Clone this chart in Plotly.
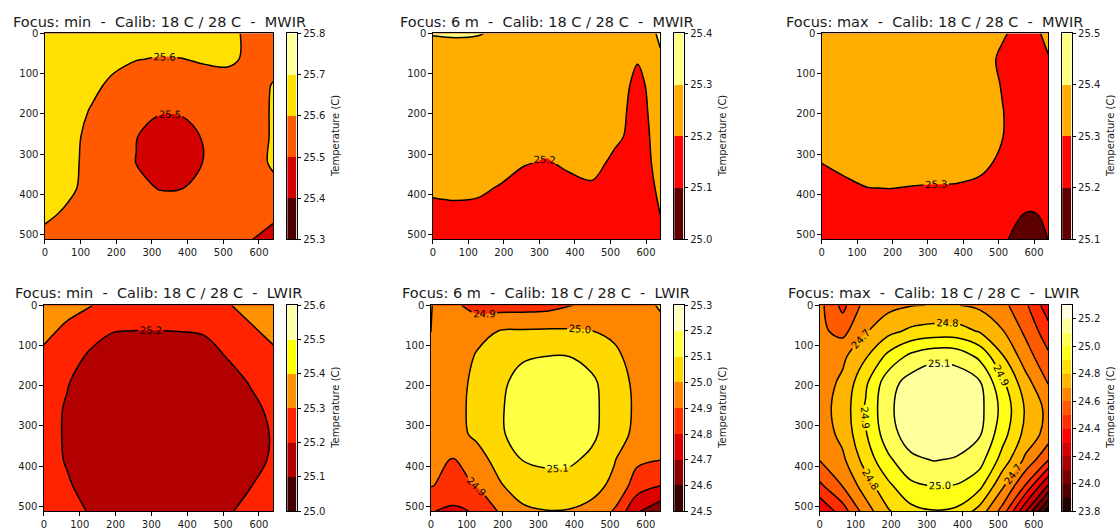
import plotly.graph_objects as go

# ---------------- data ----------------
X_PIX = [0, 64, 128, 192, 256, 320, 384, 448, 512, 576, 640]
Y_PIX = [0, 64, 128, 192, 256, 320, 384, 448, 512]

X_TICKS = [0, 100, 200, 300, 400, 500, 600]
Y_TICKS = [0, 100, 200, 300, 400, 500]

NB = "\u00a0"
TITLES = [
    "Focus: min" + NB + " - " + NB + "Calib: 18 C / 28 C" + NB + " - " + NB + "MWIR",
    "Focus: 6 m" + NB + " - " + NB + "Calib: 18 C / 28 C" + NB + " - " + NB + "MWIR",
    "Focus: max" + NB + " - " + NB + "Calib: 18 C / 28 C" + NB + " - " + NB + "MWIR",
    "Focus: min" + NB + " - " + NB + "Calib: 18 C / 28 C" + NB + " - " + NB + "LWIR",
    "Focus: 6 m" + NB + " - " + NB + "Calib: 18 C / 28 C" + NB + " - " + NB + "LWIR",
    "Focus: max" + NB + " - " + NB + "Calib: 18 C / 28 C" + NB + " - " + NB + "LWIR",
]
CB_TITLE = "Temperature (C)"

LEVEL_LO = [25.3, 25.0, 25.1, 25.0, 24.5, 23.8]
LEVEL_HI = [25.8, 25.4, 25.5, 25.6, 25.3, 25.3]
LEVEL_STEP = 0.1

CB_TICKS = [
    [25.3, 25.4, 25.5, 25.6, 25.7, 25.8],
    [25.0, 25.1, 25.2, 25.3, 25.4],
    [25.1, 25.2, 25.3, 25.4, 25.5],
    [25.0, 25.1, 25.2, 25.3, 25.4, 25.5, 25.6],
    [24.5, 24.6, 24.7, 24.8, 24.9, 25.0, 25.1, 25.2, 25.3],
    [23.8, 24.0, 24.2, 24.4, 24.6, 24.8, 25.0, 25.2],
]

# temperature fields, rows = Y_PIX, columns = X_PIX
T_MIN_MWIR = [
    [25.67, 25.67, 25.67, 25.67, 25.655, 25.646, 25.65, 25.65, 25.625, 25.58, 25.55],
    [25.67, 25.67, 25.64, 25.625, 25.603, 25.595, 25.598, 25.61, 25.615, 25.585, 25.565],
    [25.67, 25.665, 25.625, 25.58, 25.55, 25.55, 25.55, 25.56, 25.565, 25.56, 25.605],
    [25.67, 25.645, 25.595, 25.555, 25.533, 25.509, 25.51, 25.537, 25.55, 25.555, 25.61],
    [25.67, 25.63, 25.578, 25.55, 25.503, 25.46, 25.465, 25.509, 25.55, 25.555, 25.61],
    [25.67, 25.625, 25.575, 25.55, 25.498, 25.45, 25.455, 25.505, 25.55, 25.555, 25.615],
    [25.66, 25.62, 25.57, 25.55, 25.524, 25.496, 25.498, 25.529, 25.55, 25.55, 25.575],
    [25.62, 25.585, 25.56, 25.55, 25.55, 25.547, 25.547, 25.55, 25.55, 25.545, 25.53],
    [25.57, 25.56, 25.55, 25.55, 25.55, 25.55, 25.55, 25.55, 25.55, 25.505, 25.45],
]
T_6M_MWIR = [
    [25.302, 25.306, 25.303, 25.29, 25.27, 25.26, 25.26, 25.26, 25.26, 25.257, 25.31],
    [25.28, 25.27, 25.27, 25.26, 25.255, 25.255, 25.255, 25.255, 25.26, 25.205, 25.292],
    [25.26, 25.26, 25.26, 25.26, 25.26, 25.26, 25.26, 25.26, 25.24, 25.18, 25.24],
    [25.26, 25.26, 25.26, 25.26, 25.26, 25.26, 25.26, 25.26, 25.233, 25.17, 25.237],
    [25.26, 25.26, 25.26, 25.26, 25.26, 25.254, 25.26, 25.26, 25.225, 25.16, 25.235],
    [25.26, 25.26, 25.26, 25.253, 25.21, 25.19, 25.225, 25.245, 25.172, 25.15, 25.232],
    [25.224, 25.231, 25.224, 25.189, 25.146, 25.13, 25.161, 25.181, 25.13, 25.14, 25.218],
    [25.16, 25.167, 25.16, 25.13, 25.13, 25.13, 25.13, 25.13, 25.13, 25.13, 25.202],
    [25.13, 25.13, 25.13, 25.13, 25.13, 25.13, 25.13, 25.13, 25.13, 25.13, 25.15],
]
T_MAX_MWIR = [
    [25.37, 25.37, 25.37, 25.37, 25.37, 25.37, 25.37, 25.37, 25.31, 25.26, 25.32],
    [25.37, 25.37, 25.37, 25.37, 25.37, 25.37, 25.37, 25.344, 25.28, 25.23, 25.295],
    [25.37, 25.37, 25.37, 25.37, 25.37, 25.37, 25.37, 25.356, 25.292, 25.23, 25.24],
    [25.37, 25.37, 25.37, 25.37, 25.37, 25.37, 25.37, 25.366, 25.302, 25.24, 25.24],
    [25.367, 25.37, 25.37, 25.37, 25.37, 25.37, 25.37, 25.36, 25.301, 25.24, 25.24],
    [25.303, 25.335, 25.362, 25.366, 25.359, 25.355, 25.352, 25.334, 25.273, 25.24, 25.24],
    [25.239, 25.271, 25.298, 25.302, 25.295, 25.291, 25.288, 25.27, 25.24, 25.24, 25.24],
    [25.23, 25.23, 25.23, 25.23, 25.23, 25.23, 25.23, 25.23, 25.225, 25.198, 25.202],
    [25.23, 25.23, 25.23, 25.23, 25.23, 25.23, 25.23, 25.23, 25.215, 25.15, 25.201],
]
T_MIN_LWIR = [
    [25.39, 25.345, 25.305, 25.267, 25.263, 25.262, 25.266, 25.277, 25.29, 25.345, 25.39],
    [25.335, 25.272, 25.24, 25.204, 25.199, 25.198, 25.202, 25.21, 25.25, 25.28, 25.335],
    [25.27, 25.245, 25.185, 25.14, 25.13, 25.13, 25.13, 25.155, 25.205, 25.25, 25.27],
    [25.27, 25.209, 25.14, 25.13, 25.13, 25.13, 25.13, 25.13, 25.14, 25.209, 25.255],
    [25.254, 25.188, 25.13, 25.13, 25.13, 25.13, 25.13, 25.13, 25.13, 25.163, 25.233],
    [25.251, 25.185, 25.13, 25.13, 25.13, 25.13, 25.13, 25.13, 25.13, 25.14, 25.213],
    [25.256, 25.19, 25.13, 25.13, 25.13, 25.13, 25.13, 25.13, 25.13, 25.147, 25.22],
    [25.28, 25.216, 25.152, 25.13, 25.13, 25.13, 25.13, 25.13, 25.135, 25.195, 25.255],
    [25.28, 25.256, 25.19, 25.13, 25.13, 25.13, 25.13, 25.13, 25.182, 25.249, 25.28],
]
T_6M_LWIR = [
    [25.005, 24.92, 24.86, 24.86, 24.86, 24.865, 24.895, 24.92, 24.95, 24.98, 25.005],
    [25.001, 24.95, 24.98, 25.002, 25.008, 25.012, 25.01, 25.001, 24.985, 24.975, 24.985],
    [24.98, 24.96, 25.006, 25.059, 25.091, 25.101, 25.102, 25.068, 25.016, 24.97, 24.96],
    [24.97, 24.968, 25.02, 25.082, 25.13, 25.15, 25.15, 25.12, 25.044, 24.978, 24.934],
    [24.927, 24.972, 25.024, 25.09, 25.14, 25.16, 25.155, 25.125, 25.052, 24.982, 24.938],
    [24.923, 24.968, 25.019, 25.087, 25.14, 25.16, 25.155, 25.122, 25.044, 24.975, 24.93],
    [24.92, 24.895, 24.96, 25.036, 25.102, 25.12, 25.118, 25.08, 25.005, 24.92, 24.902],
    [24.905, 24.87, 24.905, 24.99, 25.05, 25.058, 25.056, 25.03, 24.98, 24.85, 24.802],
    [24.805, 24.78, 24.81, 24.91, 24.98, 24.997, 24.995, 24.975, 24.89, 24.71, 24.63],
]
T_MAX_LWIR = [
    [24.63, 24.47, 24.64, 24.67, 24.695, 24.703, 24.703, 24.68, 24.63, 24.52, 24.34],
    [24.62, 24.57, 24.69, 24.77, 24.82, 24.84, 24.84, 24.79, 24.705, 24.58, 24.44],
    [24.62, 24.68, 24.79, 24.93, 25.03, 25.08, 25.07, 24.98, 24.81, 24.65, 24.52],
    [24.65, 24.72, 24.88, 25.06, 25.14, 25.16, 25.15, 25.11, 24.92, 24.74, 24.595],
    [24.66, 24.74, 24.91, 25.08, 25.16, 25.18, 25.17, 25.13, 24.97, 24.79, 24.67],
    [24.64, 24.73, 24.89, 25.06, 25.15, 25.17, 25.16, 25.11, 24.94, 24.77, 24.66],
    [24.605, 24.68, 24.84, 24.98, 25.08, 25.105, 25.09, 25.04, 24.86, 24.68, 24.505],
    [24.48, 24.605, 24.75, 24.88, 24.98, 25.003, 24.995, 24.93, 24.72, 24.495, 24.19],
    [24.31, 24.45, 24.65, 24.79, 24.87, 24.895, 24.88, 24.76, 24.56, 24.21, 23.85],
]

FIELDS = [T_MIN_MWIR, T_6M_MWIR, T_MAX_MWIR, T_MIN_LWIR, T_6M_LWIR, T_MAX_LWIR]

# ---------------- layout geometry (pixels) ----------------
W, H = 1117, 531
PLOT_LEFT = [42, 431, 821, 41, 429, 819]
PLOT_RIGHT = [271, 659, 1048, 271, 659, 1048]
PLOT_TOP = [29, 29, 29, 306, 306, 306]
PLOT_BOTTOM = [239, 239, 239, 516, 516, 516]
CB_LEFT = [285, 673, 1062, 285, 673, 1062]
CB_WIDTH = 9.5

FONT = "DejaVu Sans"
TXT = "#1a1a1a"


def hot(t):
    r = min(1.0, 0.0416 + t * (1 - 0.0416) / 0.365079)
    g = min(1.0, max(0.0, (t - 0.365079) / (0.746032 - 0.365079)))
    b = min(1.0, max(0.0, (t - 0.746032) / (1 - 0.746032)))
    return "rgb(%d,%d,%d)" % (round(r * 255), round(g * 255), round(b * 255))


def ax_key(letter, k):
    return letter + "axis" + ("" if k == 1 else str(k))


def ax_ref(letter, k):
    return letter + ("" if k == 1 else str(k))


fig = go.Figure()
layout = dict(
    width=W, height=H, margin=dict(l=0, r=0, t=0, b=0),
    paper_bgcolor="white", plot_bgcolor="white",
    showlegend=False, hovermode=False,
    font=dict(family=FONT, size=10, color=TXT),
)
annotations = []

for i, Z in enumerate(FIELDS):
    lo, hi = LEVEL_LO[i], LEVEL_HI[i]
    n = int(round((hi - lo) / LEVEL_STEP))
    colors = [hot((k + 0.5) / n) for k in range(n)]
    cscale = [[k / (n - 1), colors[k]] for k in range(n)]
    km = i + 1
    kc = i + 7

    fig.add_trace(go.Contour(
        x=X_PIX, y=Y_PIX, z=Z,
        xaxis=ax_ref("x", km), yaxis=ax_ref("y", km),
        colorscale=cscale, showscale=False,
        contours=dict(start=round(lo + LEVEL_STEP, 3), end=round(hi - LEVEL_STEP, 3),
                      size=LEVEL_STEP, coloring="fill", showlabels=True,
                      labelfont=dict(family=FONT, size=10, color="black"),
                      labelformat=".1f"),
        line=dict(color="black", width=1.5, smoothing=1.0),
        hoverinfo="skip",
    ))

    mids = [round(lo + (k + 0.5) * LEVEL_STEP, 4) for k in range(n)]
    step_cs = []
    for k in range(n):
        step_cs += [[k / n, colors[k]], [(k + 1) / n, colors[k]]]
    fig.add_trace(go.Heatmap(
        x=[0], y=mids, z=[[k] for k in range(n)], zmin=-0.5, zmax=n - 0.5,
        colorscale=step_cs, showscale=False,
        xaxis=ax_ref("x", kc), yaxis=ax_ref("y", kc), hoverinfo="skip",
    ))

    ydom = [1 - PLOT_BOTTOM[i] / H, 1 - PLOT_TOP[i] / H]
    common = dict(showline=True, mirror=True, linecolor="black", linewidth=1,
                  showgrid=False, zeroline=False, ticks="outside", ticklen=3.5,
                  tickwidth=1, tickcolor="black",
                  tickfont=dict(family=FONT, size=10, color=TXT))
    layout[ax_key("x", km)] = dict(domain=[PLOT_LEFT[i] / W, PLOT_RIGHT[i] / W],
                                   anchor=ax_ref("y", km), range=[0, 640],
                                   tickvals=X_TICKS, **common)
    layout[ax_key("y", km)] = dict(domain=ydom, anchor=ax_ref("x", km),
                                   range=[512, 0], tickvals=Y_TICKS, **common)
    layout[ax_key("x", kc)] = dict(domain=[CB_LEFT[i] / W, (CB_LEFT[i] + CB_WIDTH) / W],
                                   anchor=ax_ref("y", kc), range=[-0.5, 0.5],
                                   showline=True, mirror=True, linecolor="black",
                                   linewidth=1, showgrid=False, zeroline=False,
                                   showticklabels=False, ticks="")
    layout[ax_key("y", kc)] = dict(domain=ydom, anchor=ax_ref("x", kc), side="right",
                                   range=[lo, hi], tickvals=CB_TICKS[i], tickformat=".1f",
                                   **common)

    annotations.append(dict(
        text=TITLES[i], xref="paper", yref="paper",
        x=(PLOT_LEFT[i] + PLOT_RIGHT[i]) / 2 / W,
        y=1 - (PLOT_TOP[i] - 12) / H, xanchor="center", yanchor="middle",
        showarrow=False, font=dict(family=FONT, size=14.5, color=TXT),
    ))
    annotations.append(dict(
        text=CB_TITLE, xref="paper", yref="paper", textangle=-90,
        x=(CB_LEFT[i] + CB_WIDTH + 39) / W,
        y=1 - (PLOT_TOP[i] + PLOT_BOTTOM[i]) / 2 / H, xanchor="center", yanchor="middle",
        showarrow=False, font=dict(family=FONT, size=10, color=TXT),
    ))

layout["annotations"] = annotations
fig.update_layout(**layout)
fig.write_html("out.html")
